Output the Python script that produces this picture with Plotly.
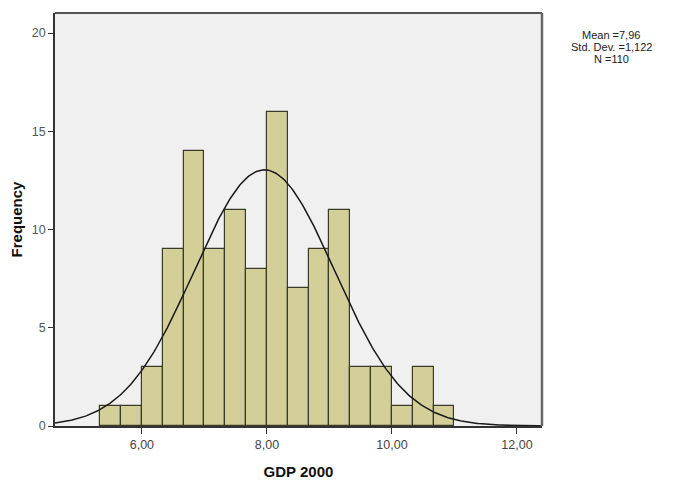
import numpy as np
import plotly.graph_objects as go

# Data
counts = [1, 1, 3, 9, 14, 9, 11, 8, 16, 7, 9, 11, 3, 3, 1, 3, 1]
bin_start = 16 / 3
bin_width = 1 / 3
mean_val = 7.96
std_val = 1.122
n_val = 110
x_ticks = [6, 8, 10, 12]
x_tick_labels = ["6,00", "8,00", "10,00", "12,00"]
y_ticks = [0, 5, 10, 15, 20]
stats_lines = ["Mean =7,96", "Std. Dev. =1,122", "N =110"]

centers = [bin_start + bin_width * (i + 0.5) for i in range(len(counts))]

x_range = [4.61, 12.40]
y_range = [0, 21.02]

xs = np.linspace(x_range[0], x_range[1], 400)
ys = n_val * bin_width * np.exp(-0.5 * ((xs - mean_val) / std_val) ** 2) / (std_val * np.sqrt(2 * np.pi))

fig = go.Figure()
fig.add_trace(go.Bar(
    x=centers, y=counts, width=bin_width,
    marker=dict(color="#d4cf98", line=dict(color="#3a3a2a", width=1.2)),
    showlegend=False, hoverinfo="skip",
))
fig.add_trace(go.Scatter(
    x=xs, y=ys, mode="lines", line=dict(color="#1a1a1a", width=1.5),
    showlegend=False, hoverinfo="skip",
))

ann = []
for i, t in enumerate(stats_lines):
    ann.append(dict(
        text=t, xref="paper", yref="paper", x=1.1417, y=0.946 - i * 0.0285,
        xanchor="center", yanchor="middle", showarrow=False,
        font=dict(size=11, color="#222222"),
    ))

fig.update_layout(
    width=680, height=480,
    margin=dict(l=55, r=138, t=13, b=54),
    paper_bgcolor="white",
    plot_bgcolor="#f0f0f0",
    font=dict(family="Liberation Sans, Arial, sans-serif", size=12, color="#444444"),
    bargap=0,
    xaxis=dict(
        range=x_range, tickvals=x_ticks, ticktext=x_tick_labels,
        ticks="outside", ticklen=6, tickcolor="#333333",
        showgrid=False, zeroline=False, automargin=False,
        showline=True, linecolor="#333333", linewidth=1.5, mirror=False,
        tickfont=dict(size=12.5, color="#444444"),
        title=dict(text="<b>GDP 2000</b>", font=dict(size=15, color="#111111"), standoff=18),
    ),
    yaxis=dict(
        range=y_range, tickvals=y_ticks,
        ticks="outside", ticklen=5, tickcolor="#333333",
        showgrid=False, zeroline=False, automargin=False,
        showline=True, linecolor="#333333", linewidth=1.5, mirror=False,
        tickfont=dict(size=12.5, color="#555555"),
        title=dict(text="<b>Frequency</b>", font=dict(size=15, color="#111111"), standoff=6),
    ),
    shapes=[
        dict(type="line", xref="paper", yref="paper", x0=0, x1=1, y0=1, y1=1,
             line=dict(color="#555555", width=2)),
        dict(type="line", xref="paper", yref="paper", x0=1, x1=1, y0=0, y1=1,
             line=dict(color="#666666", width=2.5)),
    ],
    annotations=ann,
)

fig.write_html("out.html")
